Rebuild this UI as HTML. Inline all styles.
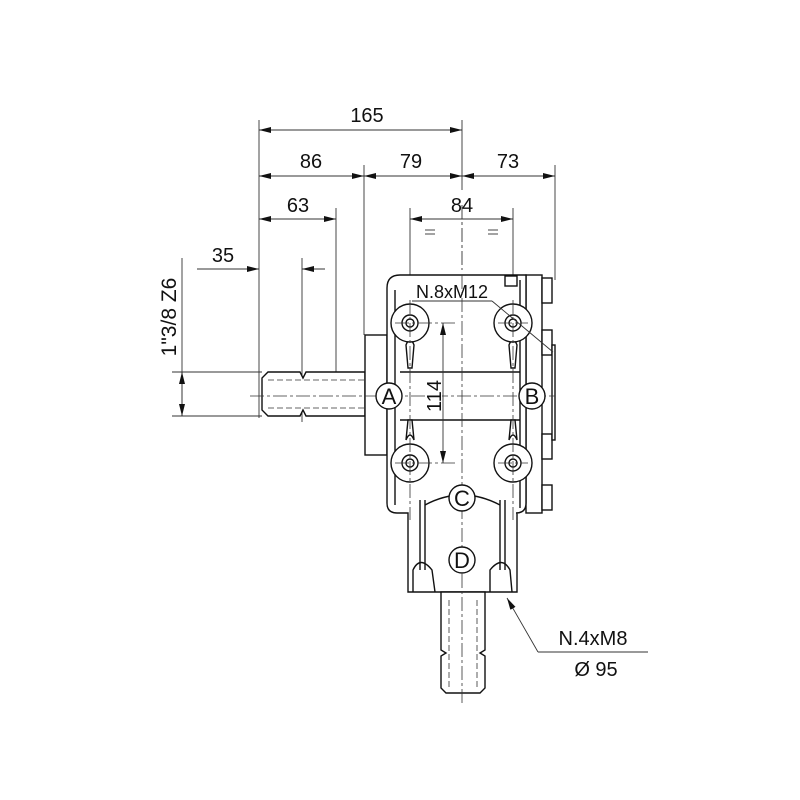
<!DOCTYPE html>
<html><head><meta charset="utf-8"><style>
html,body{margin:0;padding:0;background:#fff}
svg{display:block}
text{font-family:"Liberation Sans","DejaVu Sans",sans-serif;fill:#111}
</style></head><body>
<svg width="800" height="800" viewBox="0 0 800 800" xmlns="http://www.w3.org/2000/svg">
<defs>
<marker id="ar" viewBox="0 0 12 6" refX="12" refY="3" markerWidth="12" markerHeight="6" orient="auto-start-reverse" markerUnits="userSpaceOnUse"><path d="M0,0 L12,3 L0,6 z" fill="#111"/></marker>
</defs>
<g stroke="#333" stroke-width="0.9" fill="none">
<line x1="259" y1="120" x2="259" y2="418"/>
<line x1="364" y1="165" x2="364" y2="335"/>
<line x1="462" y1="120" x2="462" y2="190"/>
<line x1="555" y1="165" x2="555" y2="280"/>
<line x1="336" y1="208" x2="336" y2="372"/>
<line x1="302" y1="258" x2="302" y2="422"/>
<line x1="410" y1="208" x2="410" y2="300"/>
<line x1="513" y1="208" x2="513" y2="300"/>
<line x1="172" y1="372" x2="262" y2="372"/>
<line x1="172" y1="416" x2="262" y2="416"/>
<line x1="182" y1="258" x2="182" y2="416"/>
<line x1="259" y1="130" x2="462" y2="130" marker-start="url(#ar)" marker-end="url(#ar)"/>
<line x1="259" y1="176" x2="364" y2="176" marker-start="url(#ar)" marker-end="url(#ar)"/>
<line x1="364" y1="176" x2="462" y2="176" marker-start="url(#ar)" marker-end="url(#ar)"/>
<line x1="462" y1="176" x2="555" y2="176" marker-start="url(#ar)" marker-end="url(#ar)"/>
<line x1="259" y1="219" x2="336" y2="219" marker-start="url(#ar)" marker-end="url(#ar)"/>
<line x1="410" y1="219" x2="513" y2="219" marker-start="url(#ar)" marker-end="url(#ar)"/>
<line x1="197" y1="269" x2="259" y2="269" marker-end="url(#ar)"/>
<line x1="325" y1="269" x2="302" y2="269" marker-end="url(#ar)"/>
<line x1="182" y1="372" x2="182" y2="416" marker-start="url(#ar)" marker-end="url(#ar)"/>
<line x1="425" y1="230" x2="435" y2="230"/><line x1="425" y1="234" x2="435" y2="234"/>
<line x1="488" y1="230" x2="498" y2="230"/><line x1="488" y1="234" x2="498" y2="234"/>
<line x1="462" y1="205" x2="462" y2="270" stroke-dasharray="14,3,3,3"/>
</g>
<g stroke="#111" stroke-width="1.4" fill="#fff">
<path d="M268,372 L300,372 L303,378 L306,372 L365,372 L365,416 L306,416 L303,410 L300,416 L268,416 L262,410 L262,378 Z"/>
<rect x="365" y="335" width="22" height="120"/>
<rect x="526" y="275" width="16" height="238"/>
<rect x="542" y="278" width="10" height="25"/><rect x="542" y="330" width="10" height="25"/>
<rect x="542" y="434" width="10" height="25"/><rect x="542" y="485" width="10" height="25"/>
<rect x="552" y="345" width="3" height="95"/>
<path d="M400,275 L526,275 L526,503 Q526,513 516,513 L517,513 L517,592 L408,592 L408,513 L397,513 Q387,513 387,503 L387,288 Q387,275 400,275 Z"/>
<line x1="395" y1="290" x2="395" y2="505"/>
<line x1="520" y1="280" x2="520" y2="508"/>
<rect x="505" y="276" width="12" height="10"/>
<path d="M400,372 L520,372 M400,420 L520,420" fill="none"/>
<path d="M425,505 Q462,485 500,505" fill="none"/>
<path d="M413,592 L413,570 Q420,555 432,570 L435,592" fill="none"/>
<path d="M490,592 L490,570 Q502,555 510,570 L512,592" fill="none"/>
<line x1="420" y1="500" x2="420" y2="570"/><line x1="425" y1="500" x2="425" y2="570"/>
<line x1="500" y1="500" x2="500" y2="570"/><line x1="505" y1="500" x2="505" y2="570"/>
<path d="M441,592 L485,592 L485,650 L480,653 L485,656 L485,688 L480,693 L446,693 L441,688 L441,656 L446,653 L441,650 Z"/>
<path d="M406,345 Q410,335 414,345 L412,368 L408,368 Z"/>
<path d="M509,345 Q513,335 517,345 L515,368 L511,368 Z"/>
<path d="M406,440 Q410,430 414,440 L412,420 L408,420 Z"/>
<path d="M509,440 Q513,430 517,440 L515,420 L511,420 Z"/>
<circle cx="410" cy="323" r="19"/><circle cx="410" cy="323" r="8"/><circle cx="410" cy="323" r="4"/>
<circle cx="513" cy="323" r="19"/><circle cx="513" cy="323" r="8"/><circle cx="513" cy="323" r="4"/>
<circle cx="410" cy="463" r="19"/><circle cx="410" cy="463" r="8"/><circle cx="410" cy="463" r="4"/>
<circle cx="513" cy="463" r="19"/><circle cx="513" cy="463" r="8"/><circle cx="513" cy="463" r="4"/>
</g>
<g stroke="#333" stroke-width="0.8" fill="none" stroke-dasharray="6,3">
<line x1="268" y1="380" x2="365" y2="380"/><line x1="268" y1="408" x2="365" y2="408"/>
<line x1="449" y1="600" x2="449" y2="688"/><line x1="477" y1="600" x2="477" y2="688"/>
</g>
<g stroke="#333" stroke-width="0.8" fill="none" stroke-dasharray="14,3,3,3">
<line x1="250" y1="396" x2="555" y2="396"/>
<line x1="462" y1="275" x2="462" y2="705"/>
<line x1="395" y1="323" x2="455" y2="323"/><line x1="498" y1="323" x2="528" y2="323"/>
<line x1="395" y1="463" x2="455" y2="463"/><line x1="498" y1="463" x2="528" y2="463"/>
<line x1="410" y1="300" x2="410" y2="520"/><line x1="513" y1="300" x2="513" y2="520"/>
</g>
<g stroke="#111" stroke-width="1.4" fill="#fff">
<circle cx="389" cy="396" r="13"/><circle cx="532" cy="396" r="13"/>
<circle cx="462" cy="498" r="13"/><circle cx="462" cy="560" r="13"/>
</g>
<g stroke="#333" stroke-width="0.9" fill="none">
<line x1="443" y1="323" x2="443" y2="463" marker-start="url(#ar)" marker-end="url(#ar)"/>
<line x1="412" y1="301" x2="492" y2="301"/>
<line x1="492" y1="301" x2="553" y2="352"/>
<line x1="538" y1="652" x2="648" y2="652"/>
<line x1="538" y1="652" x2="507" y2="598" marker-end="url(#ar)"/>
</g>
<rect x="426" y="375" width="16" height="42" fill="#fff"/>
<g font-size="20" text-anchor="middle">
<text x="367" y="122">165</text>
<text x="311" y="168">86</text>
<text x="411" y="168">79</text>
<text x="508" y="168">73</text>
<text x="298" y="212">63</text>
<text x="462" y="212">84</text>
<text x="223" y="262">35</text>
<text font-size="21" transform="translate(176,317) rotate(-90)">1"3/8 Z6</text>
<text transform="translate(441,396) rotate(-90)">114</text>
<text x="593" y="645">N.4xM8</text>
<text x="596" y="676">Ø 95</text>
</g>
<text x="452" y="298" font-size="18" text-anchor="middle">N.8xM12</text>
<g font-size="22" text-anchor="middle">
<text x="389" y="404">A</text>
<text x="532" y="404">B</text>
<text x="462" y="506">C</text>
<text x="462" y="568">D</text>
</g>
</svg>
</body></html>
